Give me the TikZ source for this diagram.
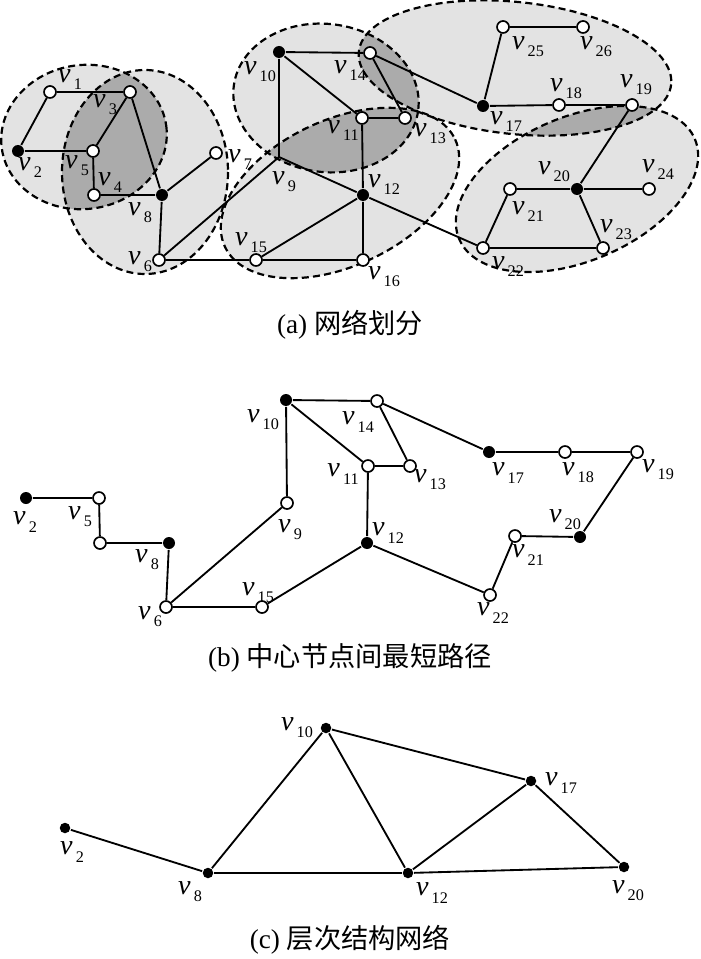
\documentclass[tikz,border=0pt]{standalone}
\usepackage{fontspec}
\setmainfont{Liberation Serif}
\newfontfamily\cjk{Noto Sans CJK SC}
\newcommand{\vn}[1]{\textit{v}\kern1.8pt\raisebox{-0.55ex}{\fontsize{9.2}{9.2}\selectfont #1}}

\begin{document}
\begin{tikzpicture}[x=0.02cm, y=-0.02cm, line width=1.05pt,
  vtx/.style={circle, draw, fill=white, line width=0.95pt, inner sep=0pt, minimum size=2.4mm},
  hub/.style={circle, fill=black, inner sep=0pt, minimum size=2.4mm},
  lead/.style={circle, fill=black, inner sep=0pt, minimum size=2.1mm},
  lbl/.style={inner sep=0pt, font=\fontsize{16}{16}\selectfont},
  subcap/.style={inner sep=0pt, font=\fontsize{15.5}{15.5}\selectfont},
  zone/.style={fill=black!11},
  core/.style={fill=black!33},
  rim/.style={draw, dash pattern=on 4pt off 2.4pt, line width=1.25pt},
  eA/.style={shift={(84,137)}, rotate=8, x radius=83, y radius=72},
  eB/.style={shift={(145,172)}, rotate=0, x radius=83, y radius=102},
  eC/.style={shift={(326,98)}, rotate=-8, x radius=93, y radius=74},
  eD/.style={shift={(340,193)}, rotate=25, x radius=127, y radius=73},
  eE/.style={shift={(515,68)}, rotate=-6, x radius=157, y radius=66},
  eF/.style={shift={(577,189)}, rotate=23, x radius=128, y radius=72}]
  \useasboundingbox (0,0) rectangle (700,959);

  % (a) partition zones
  \foreach \e in {eA,eB,eC,eD,eE,eF} {\fill[zone,\e] (0,0) ellipse;}
  \foreach \p/\q in {eA/eB, eC/eD, eC/eE, eE/eF} {
    \begin{scope}
      \clip[\p] (0,0) ellipse;
      \fill[core,\q] (0,0) ellipse;
    \end{scope}
  }
  \foreach \e in {eA,eB,eC,eD,eE,eF} {\path[rim,\e] (0,0) ellipse;}

  % (a) nodes
  \foreach \n/\x/\y in {1/50/92, 3/130/92, 5/93/151, 4/94/195, 7/216/153, 6/159/260,
      14/370/53, 11/362/118, 13/405/118, 15/256/260, 16/363/260, 25/503/27, 26/583/27,
      18/559/105, 19/632/105, 21/510/189, 22/483/248, 23/603/248, 24/649/189}
    {\node[vtx] (a\n) at (\x,\y) {};}
  \foreach \n/\x/\y in {2/18/151, 8/162/195, 10/279/52, 12/363/195, 17/483/106, 20/577/189}
    {\node[hub] (a\n) at (\x,\y) {};}
  \coordinate (a9) at (279,157);
  \draw (a1) -- (a3) (a1) -- (a2) (a2) -- (a5) (a3) -- (a5) (a5) -- (a4) (a4) -- (a8)
        (a3) -- (a8) (a8) -- (a7) (a8) -- (a6) (a6) -- (a15) (a6) -- (a9) (a9) -- (a10)
        (a9) -- (a12) (a10) -- (a14) (a10) -- (a11) (a14) -- (a13) (a11) -- (a13)
        (a11) -- (a12) (a12) -- (a15) (a12) -- (a16) (a15) -- (a16) (a12) -- (a22)
        (a14) -- (a17) (a17) -- (a25) (a25) -- (a26) (a17) -- (a18) (a18) -- (a19)
        (a19) -- (a20) (a20) -- (a24) (a20) -- (a21) (a20) -- (a23) (a21) -- (a22)
        (a22) -- (a23);
  \foreach \n/\x/\y in {1/70/80, 3/105/105, 2/30/168, 5/77/166, 4/110/183, 8/140/213,
      7/240/160, 6/140/262, 10/260/72, 14/350/71, 11/343/131, 13/430/134, 9/284/182,
      12/384/185, 15/251/243, 16/384/277, 25/528/47, 26/596/47, 17/506/122, 18/566/89,
      19/636/85, 20/554/172, 24/658/170, 21/528/212, 22/508/267, 23/616/230}
    {\node[lbl] (la\n) at (\x,\y) {\vn{\n}};}
  \node[subcap] (capa) at (350,325) {(a) {\cjk 网络划分}};

  % (b) shortest paths between centres
  \foreach \n/\x/\y in {5/99/498, 4/100/543, 6/166/607, 15/262/607, 9/287/503, 14/377/401,
      11/368/466, 13/410/466, 18/565/452, 19/637/452, 21/515/536, 22/490/595}
    {\node[vtx] (b\n) at (\x,\y) {};}
  \foreach \n/\x/\y in {2/26/498, 8/169/543, 10/286/400, 12/367/543, 17/489/452, 20/580/537}
    {\node[hub] (b\n) at (\x,\y) {};}
  \draw (b2) -- (b5) -- (b4) -- (b8) -- (b6) -- (b15) -- (b12) -- (b22) -- (b21) -- (b20)
        -- (b19) -- (b18) -- (b17) -- (b14) -- (b10) -- (b9) -- (b6)
        (b10) -- (b11) -- (b12) (b11) -- (b13) -- (b14);
  \foreach \n/\x/\y in {2/25/522, 5/80/517, 8/147/560, 6/150/617, 15/258/593, 9/290/530,
      10/263/420, 14/358/422, 11/343/474, 13/430/480, 17/508/473, 18/578/473,
      19/658/470, 20/565/520, 21/528/555, 22/493/613, 12/388/533}
    {\node[lbl] (lb\n) at (\x,\y) {\vn{\n}};}
  \node[subcap] (capb) at (350,658) {(b) {\cjk 中心节点间最短路径}};

  % (c) hierarchy
  \foreach \n/\x/\y in {2/65/828, 8/208/873, 12/408/873, 20/624/867, 10/326/728, 17/531/781}
    {\node[lead] (c\n) at (\x,\y) {};}
  \draw (c2) -- (c8) -- (c10) -- (c12) -- (c8) (c10) -- (c17) -- (c12) -- (c20) -- (c17);
  \foreach \n/\x/\y in {2/72/852, 8/190/892, 12/432/893, 20/628/891, 10/297/728, 17/561/783}
    {\node[lbl] (lc\n) at (\x,\y) {\vn{\n}};}
  \node[subcap] (capc) at (350,940) {(c) {\cjk 层次结构网络}};
\end{tikzpicture}
\end{document}
